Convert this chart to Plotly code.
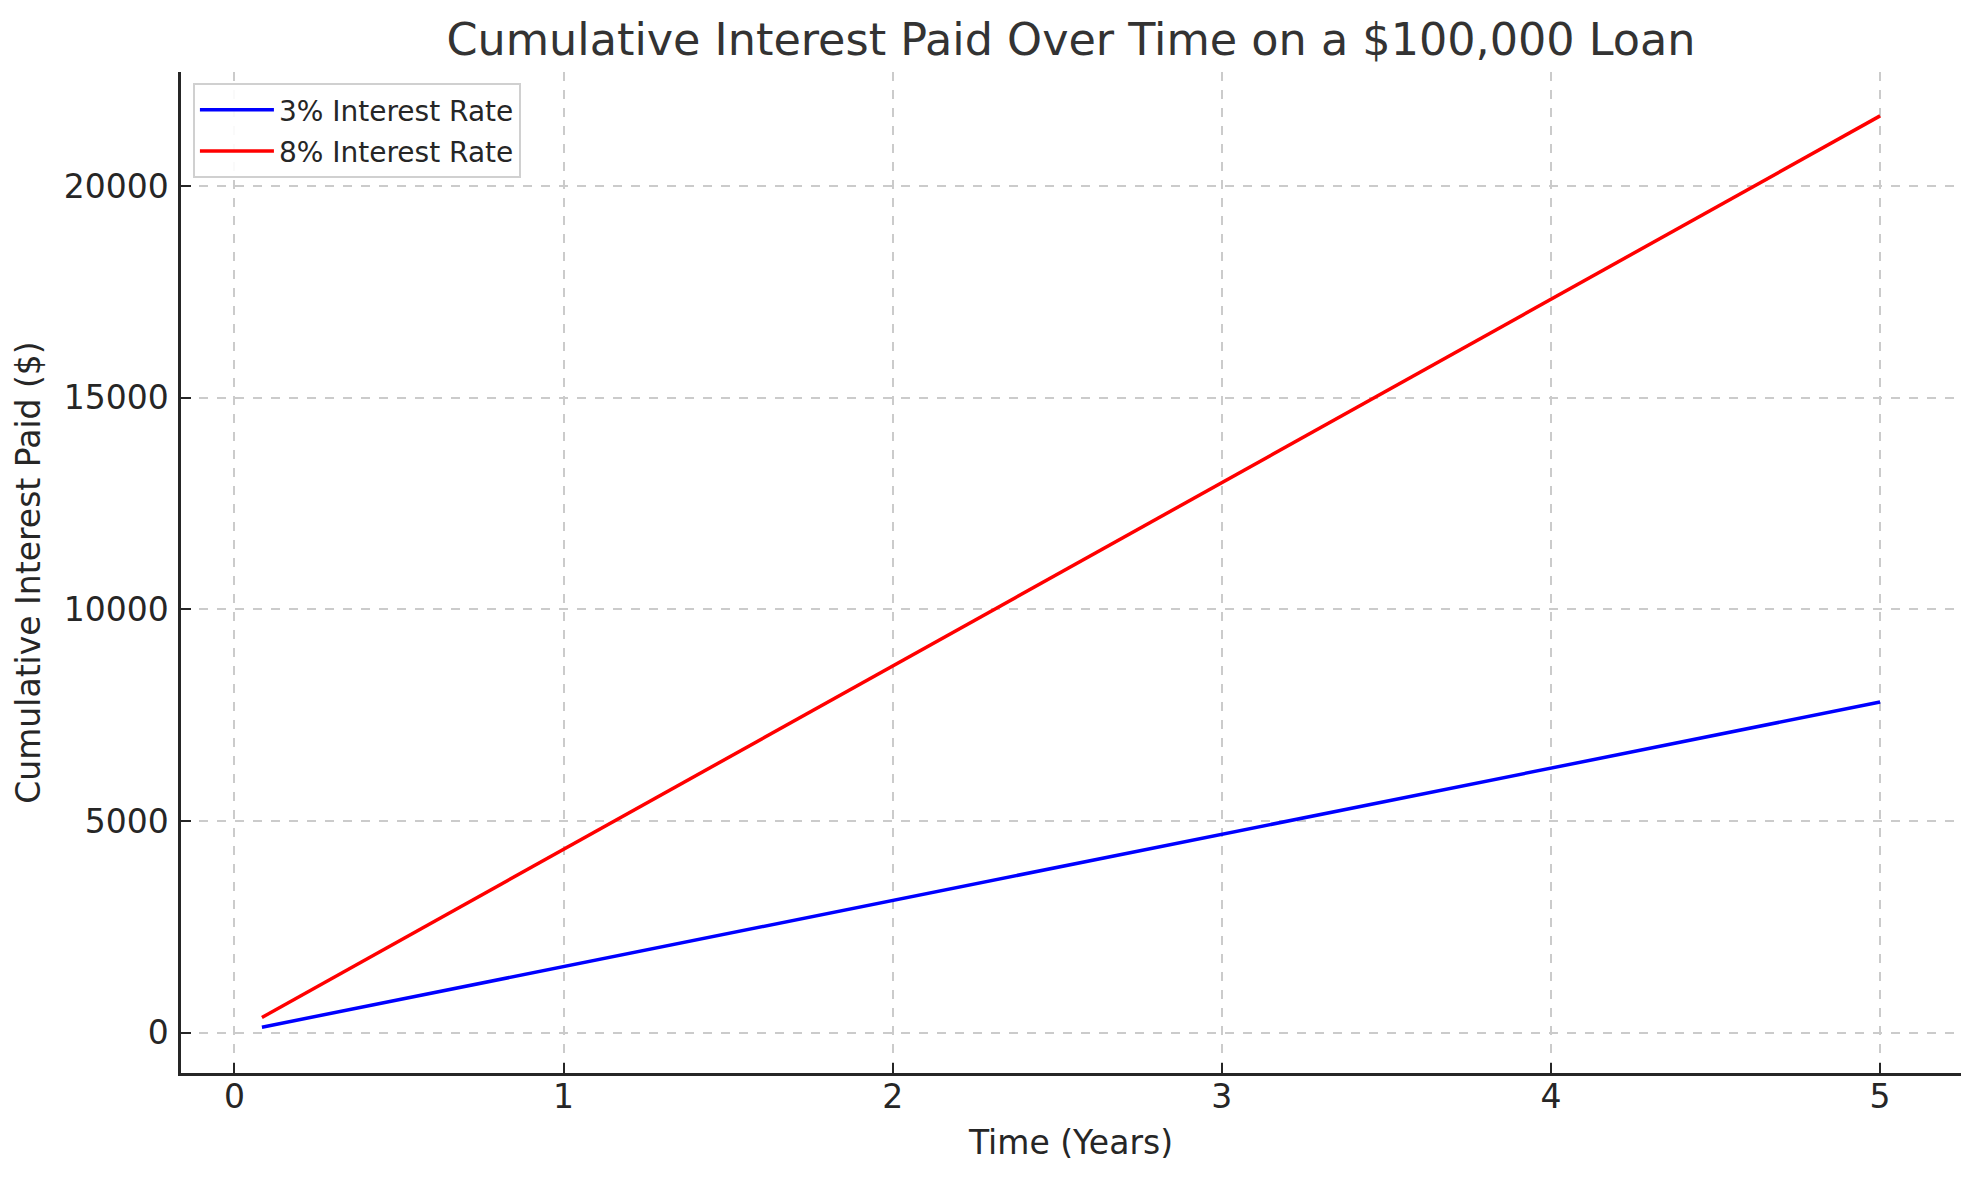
import plotly.graph_objects as go

# Time points (years) and cumulative interest paid ($)
years = [1/12, 1, 2, 3, 4, 5]
interest_3pct = [130, 1562, 3125, 4687, 6250, 7812]
interest_8pct = [361, 4332, 8663, 12995, 17326, 21658]

series_names = ["3% Interest Rate", "8% Interest Rate"]
series_colors = ["#0000ff", "#ff0000"]

x_ticks = [0, 1, 2, 3, 4, 5]
y_ticks = [0, 5000, 10000, 15000, 20000]

FONT = "DejaVu Sans"
TEXT = "#262626"

fig = go.Figure()
for name, vals, col in zip(series_names, [interest_3pct, interest_8pct], series_colors):
    fig.add_trace(go.Scatter(x=years, y=vals, mode="lines", name=name,
                             legendgroup=name,
                             line=dict(color=col, width=3.5)))

axis_common = dict(
    showline=True, linecolor=TEXT, linewidth=2.5, mirror=False,
    ticks="inside", ticklen=10, tickwidth=2, tickcolor=TEXT,
    showgrid=True, gridcolor="#cbcbcb", gridwidth=1.5, griddash="dash",
    zeroline=False,
    tickfont=dict(family=FONT, size=33, color=TEXT),
)

fig.update_layout(
    width=1980, height=1180,
    margin=dict(l=181, r=19, t=72, b=107),
    paper_bgcolor="white", plot_bgcolor="white",
    font=dict(family=FONT, color=TEXT),
    title=dict(text="Cumulative Interest Paid Over Time on a $100,000 Loan",
               x=(181 + 1961) / 2 / 1980, xanchor="center",
               y=1 - 39 / 1180, yanchor="middle",
               font=dict(family=FONT, size=44.5, color="#333333")),
    xaxis=dict(axis_common, range=[-0.1625, 5.2458], tickvals=x_ticks,
               ticktext=[str(t) for t in x_ticks], ticklabelstandoff=-7,
               title=dict(text="Time (Years)", standoff=16,
                          font=dict(family=FONT, size=33, color=TEXT))),
    yaxis=dict(axis_common, range=[-952, 22695], tickvals=y_ticks,
               ticktext=[str(t) for t in y_ticks], ticklabelstandoff=3,
               title=dict(text="Cumulative Interest Paid ($)", standoff=14,
                          font=dict(family=FONT, size=33, color=TEXT))),
    legend=dict(x=0.0067, y=0.989, xanchor="left", yanchor="top",
                bgcolor="rgba(255,255,255,0.9)", bordercolor="#d0d0d0", borderwidth=2,
                font=dict(family=FONT, size=28, color=TEXT),
                tracegroupgap=2, itemwidth=74),
    showlegend=True,
)

fig.write_html("out.html", config={"displayModeBar": False},
               post_script="document.body.style.margin='0';")
